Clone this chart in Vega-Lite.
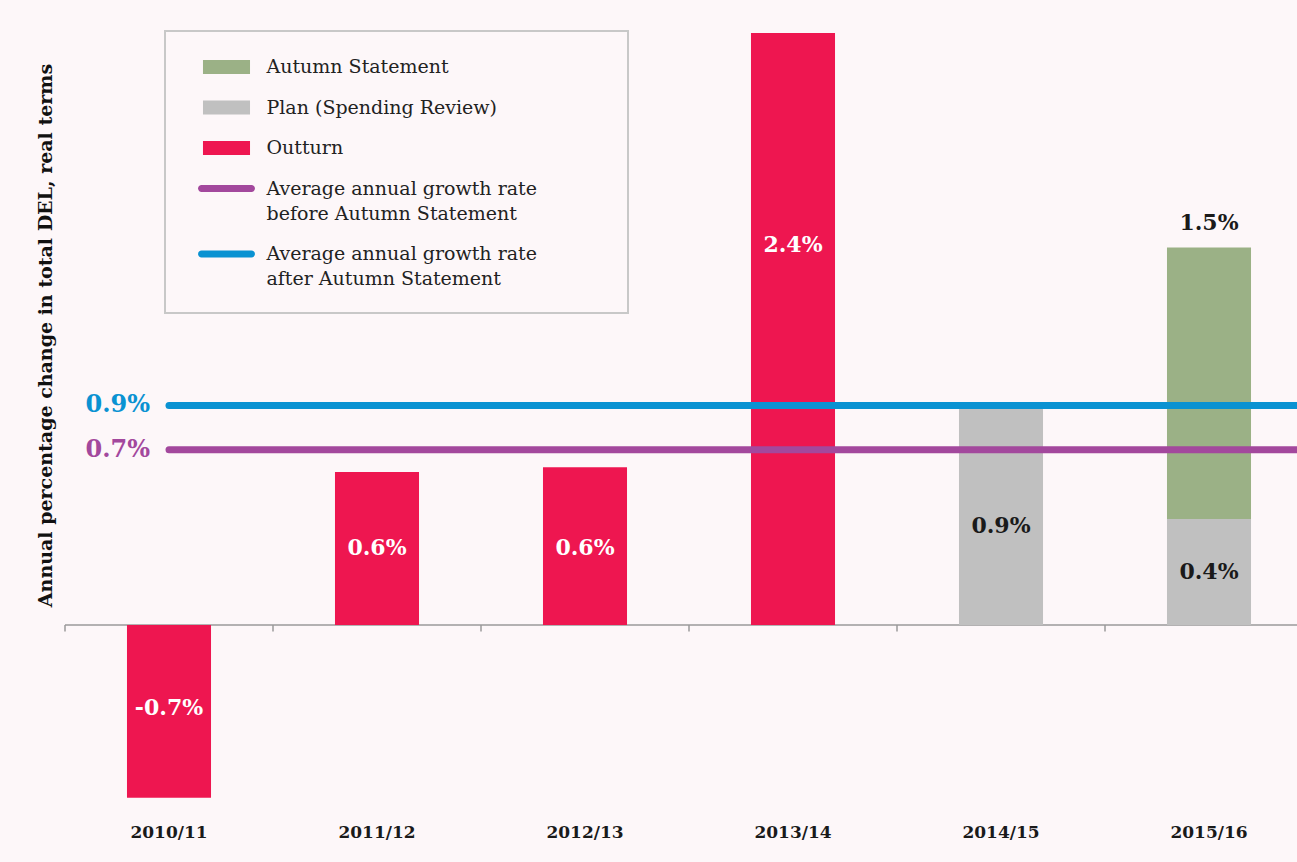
{
  "$schema": "https://vega.github.io/schema/vega-lite/v6.json",
  "width": 1248,
  "height": 777,
  "autosize": {"type": "none"},
  "padding": {"left": 65, "top": 33, "right": 0, "bottom": 52},
  "background": "#fdf7f9",
  "config": {"view": {"stroke": null}, "font": "DejaVu Serif"},
  "datasets": {
    "bars": [
      {"year": "2010/11", "series": "Outturn", "value": -0.7},
      {"year": "2011/12", "series": "Outturn", "value": 0.62},
      {"year": "2012/13", "series": "Outturn", "value": 0.64},
      {"year": "2013/14", "series": "Outturn", "value": 2.4},
      {"year": "2014/15", "series": "Plan (Spending Review)", "value": 0.88},
      {"year": "2015/16", "series": "Plan (Spending Review)", "value": 0.43},
      {"year": "2015/16", "series": "Autumn Statement", "value": 1.1}
    ],
    "labels": [
      {"year": "2010/11", "series": "Outturn", "label": "-0.7%", "at": -0.336},
      {"year": "2011/12", "series": "Outturn", "label": "0.6%", "at": 0.312},
      {"year": "2012/13", "series": "Outturn", "label": "0.6%", "at": 0.312},
      {"year": "2013/14", "series": "Outturn", "label": "2.4%", "at": 1.54},
      {"year": "2014/15", "series": "Plan (Spending Review)", "label": "0.9%", "at": 0.4},
      {"year": "2015/16", "series": "Plan (Spending Review)", "label": "0.4%", "at": 0.215},
      {"year": "2015/16", "series": "Autumn Statement total", "label": "1.5%", "at": 1.63}
    ],
    "averages": [
      {"series": "before", "rate": 0.71, "label": "0.7%", "start": "2010/11", "end": "2015/16"},
      {"series": "after", "rate": 0.89, "label": "0.9%", "start": "2010/11", "end": "2015/16"}
    ],
    "years": [
      {"year": "2010/11"}, {"year": "2011/12"}, {"year": "2012/13"},
      {"year": "2013/14"}, {"year": "2014/15"}, {"year": "2015/16"}
    ]
  },
  "layer": [
    {
      "data": {"name": "years"},
      "mark": {"type": "rule", "color": "#9a9a9a", "strokeWidth": 1.5},
      "encoding": {
        "x": {"field": "year", "type": "nominal", "bandPosition": 0},
        "y": {"datum": 0, "type": "quantitative"},
        "y2": {"datum": -0.026}
      }
    },
    {
      "data": {"values": [{}]},
      "mark": {"type": "rule", "color": "#9a9a9a", "strokeWidth": 1.5},
      "encoding": {"y": {"datum": 0, "type": "quantitative"}}
    },
    {
      "data": {"name": "bars"},
      "mark": {"type": "bar", "width": {"band": 0.404}},
      "encoding": {
        "x": {
          "field": "year", "type": "nominal",
          "scale": {"paddingInner": 0, "paddingOuter": 0},
          "axis": {
            "title": null, "domain": false, "ticks": false, "labelAngle": 0,
            "bandPosition": 0.5, "labelAlign": "center",
            "labelFont": "DejaVu Serif", "labelFontWeight": "bold", "labelFontSize": 17,
            "labelColor": "#1a1a1a", "labelPadding": 22
          }
        },
        "y": {
          "field": "value", "type": "quantitative", "stack": "zero",
          "scale": {"domain": [-0.75, 2.4], "nice": false, "zero": false},
          "axis": {
            "title": "Annual percentage change in total DEL, real terms",
            "labels": false, "ticks": false, "domain": false, "grid": false,
            "titleFont": "DejaVu Serif", "titleFontWeight": "bold", "titleFontSize": 19,
            "titleColor": "#111111", "titleX": -20, "titleY": 302, "titleAngle": -90,
            "titleAlign": "center", "titleBaseline": "middle"
          }
        },
        "order": {"field": "value", "sort": "ascending"},
        "color": {
          "field": "series", "type": "nominal",
          "scale": {
            "domain": [
              "Autumn Statement",
              "Plan (Spending Review)",
              "Outturn",
              "Average annual growth rate|before Autumn Statement",
              "Average annual growth rate|after Autumn Statement"
            ],
            "range": ["#9bb186", "#c0c0c0", "#ee1650", "#a3489d", "#0a92d2"]
          },
          "legend": {
            "title": null,
            "orient": "none", "legendX": 100, "legendY": -2,
            "padding": 24,
            "fillColor": "#fdf7f9", "strokeColor": "#c8c8c8",
            "labelFont": "DejaVu Serif", "labelFontSize": 19, "labelColor": "#222222",
            "labelLimit": 0,
            "symbolSize": 576, "symbolOffset": 25.5, "labelOffset": 28,
            "rowPadding": 18.5,
            "labelBaseline": "alphabetic",
            "labelExpr": "split(replace(datum.label, '|', '\u00a0\u00a0\u00a0\u00a0\u00a0\u00a0\u00a0\u00a0\u00a0\u00a0\u00a0\u200b|'), '|')",
            "encode": {
              "legend": {"update": {"strokeWidth": {"value": 2}}},
              "symbols": {
                "update": {
                  "shape": [
                    {"test": "indexof(datum.value, 'Average') >= 0", "value": "M-2.08,-0.29L2.08,-0.29A0.29,0.29 0 0 1 2.08,0.29L-2.08,0.29A0.29,0.29 0 0 1 -2.08,-0.29Z"},
                    {"value": "M-1.96,-0.58L1.96,-0.58L1.96,0.58L-1.96,0.58Z"}
                  ],
                  "strokeWidth": {"value": 0}
                }
              },
              "labels": {"update": {"dy": {"value": 6}, "lineHeight": {"value": 25}}}
            }
          }
        }
      }
    },
    {
      "data": {"name": "averages"},
      "mark": {"type": "rule", "strokeWidth": 7, "strokeCap": "round"},
      "encoding": {
        "x": {"field": "start", "type": "nominal", "bandPosition": 0.5},
        "x2": {"field": "end", "bandPosition": 1},
        "y": {"field": "rate", "type": "quantitative"},
        "color": {"condition": {"test": "datum.series == 'after'", "value": "#0a92d2"}, "value": "#a3489d"}
      }
    },
    {
      "data": {"name": "averages"},
      "mark": {"type": "text", "align": "right", "baseline": "middle", "dx": -19, "font": "DejaVu Serif", "fontWeight": "bold", "fontSize": 24},
      "encoding": {
        "x": {"field": "start", "type": "nominal", "bandPosition": 0.5},
        "y": {"field": "rate", "type": "quantitative"},
        "text": {"field": "label"},
        "color": {"condition": {"test": "datum.series == 'after'", "value": "#0a92d2"}, "value": "#a3489d"}
      }
    },
    {
      "data": {"name": "labels"},
      "mark": {"type": "text", "align": "center", "baseline": "middle", "font": "DejaVu Serif", "fontWeight": "bold", "fontSize": 22},
      "encoding": {
        "x": {"field": "year", "type": "nominal"},
        "y": {"field": "at", "type": "quantitative"},
        "text": {"field": "label"},
        "color": {"condition": {"test": "datum.series == 'Outturn'", "value": "#ffffff"}, "value": "#1a1a1a"}
      }
    }
  ]
}
